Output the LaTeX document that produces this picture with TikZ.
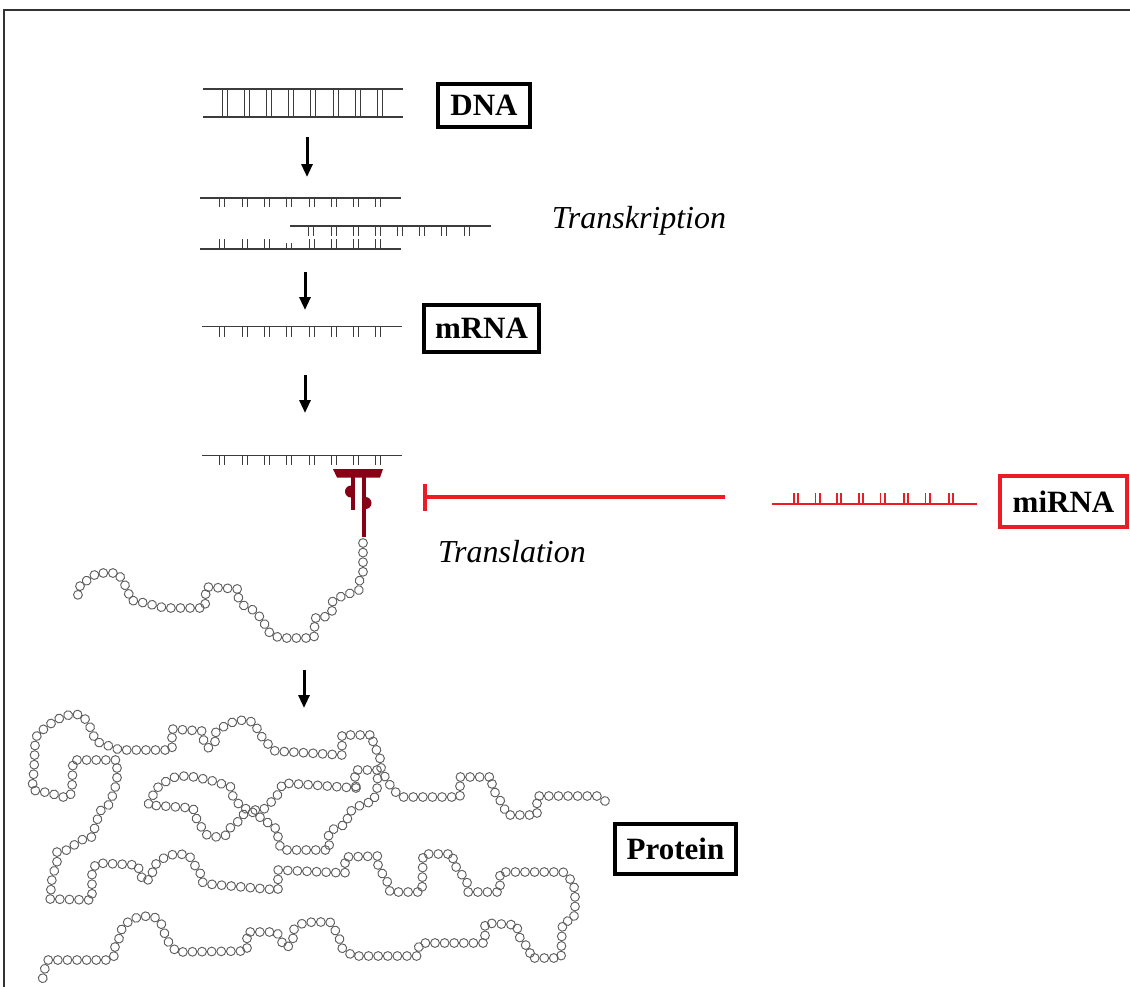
\documentclass[tikz,border=0pt]{standalone}
\usepackage{fontspec}
\setmainfont{Liberation Serif}
\usetikzlibrary{arrows.meta,decorations.markings}

\definecolor{strandgray}{RGB}{60,60,60}
\definecolor{mired}{RGB}{237,28,36}
\definecolor{ribored}{RGB}{135,0,22}
\definecolor{beadgray}{RGB}{95,95,95}
\definecolor{framegray}{RGB}{50,50,50}

\tikzset{
  strand/.style={draw=strandgray, line width=1.2pt},
  basetick/.style={draw=strandgray, line width=1pt},
  labelbox/.style={draw=black, line width=4pt, inner sep=0pt,
    font=\fontsize{31}{36}\selectfont\bfseries},
  process/.style={font=\fontsize{32}{38}\selectfont\itshape, inner sep=0pt, anchor=base},
  flow/.style={draw=black, line width=3pt, -{Triangle[width=11pt,length=13pt]}},
  inhibit/.style={draw=mired, line width=4pt, -{Bar[width=27pt]}},
  bead/.style={draw=beadgray, line width=0.95pt},
  chain/.style={decorate, decoration={markings,
    mark=between positions 0 and 1 step 9.6pt with {\draw[bead] (0,0) circle[radius=4.4pt];}}},
}

% pairs of short base ticks hanging from a strand
\newcommand{\tickpairs}[4]{% #1 list of centres, #2 y of strand, #3 y of tick end, #4 style
  \foreach \c in {#1} {
    \draw[#4] (\c-2.2,#2) -- (\c-2.2,#3);
    \draw[#4] (\c+2.2,#2) -- (\c+2.2,#3);
  }}

\begin{document}
\begin{tikzpicture}[x=1pt,y=-1pt]
\useasboundingbox (0,0) rectangle (1130,986);

% frame
\draw[framegray, line width=1.2pt] (4,990) -- (4,10) -- (1135,10);

% ---- DNA double strand ----
\coordinate (dnaA) at (203,89);  \coordinate (dnaB) at (403,89);
\coordinate (dnaC) at (203,117); \coordinate (dnaD) at (403,117);
\draw[strand] (dnaA) -- (dnaB);
\draw[strand] (dnaC) -- (dnaD);
\tickpairs{225,247,269,291,313,336,358,380}{89}{117}{basetick}
\node[labelbox, minimum width=92pt, minimum height=43pt] (dna) at (484,105.5) {DNA};

% ---- transcription ----
\coordinate (trA) at (200,198);  \coordinate (trB) at (401,198);
\coordinate (rnA) at (290,226);  \coordinate (rnB) at (491,226);
\coordinate (tmA) at (200,249);  \coordinate (tmB) at (401,249);
\draw[strand] (trA) -- (trB);
\draw[strand] (rnA) -- (rnB);
\draw[strand] (tmA) -- (tmB);
\tickpairs{222,245,267,289,312,334,356,378}{198}{207}{basetick}
\tickpairs{311,334,356,378,400,422,444,467}{226}{235.5}{basetick}
\tickpairs{222,245,267,312,334,356,378}{249}{238.5}{basetick}
\tickpairs{289}{249}{243}{basetick}
\node[process] (transk) at (639,228) {Transkription};

% ---- mRNA ----
\coordinate (mrA) at (202,326.7); \coordinate (mrB) at (402,326.7);
\draw[strand] (mrA) -- (mrB);
\tickpairs{222,245,267,289,312,334,356,378}{326.7}{336.5}{basetick}
\node[labelbox, minimum width=115pt, minimum height=47pt] (mrna) at (481.5,328.5) {mRNA};

% ---- mRNA at the ribosome ----
\coordinate (m2A) at (202,455.3); \coordinate (m2B) at (402,455.3);
\draw[strand] (m2A) -- (m2B);
\tickpairs{222,245,267,289,312,334,356,378}{455.3}{465}{basetick}

% ribosome
\fill[ribored] (333,469) -- (383,469) -- (380,477.5) -- (337,477.5) -- cycle;
\fill[ribored] (350.5,477) rectangle (355,510);
\fill[ribored] (361.5,477) rectangle (366,537);
\fill[ribored] (351,485.5) arc[start angle=90, end angle=270, radius=6pt] -- cycle;
\fill[ribored] (365.5,497) arc[start angle=90, end angle=-90, radius=6pt] -- cycle;
\coordinate (ribo) at (423,497);

% ---- miRNA ----
\coordinate (miA) at (772,504.3); \coordinate (miB) at (977,504.3);
\draw[mired, line width=2pt] (miA) -- (miB);
\tickpairs{796,817.5,839,861,882.5,906,927.5,951}{504.3}{492.5}{mired, line width=1.6pt}
\node[labelbox, draw=mired, minimum width=127pt, minimum height=51pt] (mirna) at (1063.5,501.5) {miRNA};
\coordinate (inhStart) at (725,497);
\draw[inhibit] (inhStart) -- (ribo);

\node[process] (transl) at (512,562) {Translation};

% ---- arrows between the stages ----
\coordinate (a1s) at (307,137); \coordinate (a1e) at (307,177);
\coordinate (a2s) at (305,272); \coordinate (a2e) at (305,310);
\coordinate (a3s) at (305,375); \coordinate (a3e) at (305,413);
\coordinate (a4s) at (304,670); \coordinate (a4e) at (304,708);
\draw[flow] (a1s) -- (a1e);
\draw[flow] (a2s) -- (a2e);
\draw[flow] (a3s) -- (a3e);
\draw[flow] (a4s) -- (a4e);

% ---- nascent peptide ----
\path[chain] plot coordinates {(363,543) (363,573) (359,582) (359,590) (340,597) (332,602)
  (332,612) (323,618) (315,618) (314,638) (283,638) (273,636) (267,630) (263,620)
  (253,610) (243,605) (238,597) (238,589) (206,587) (205,608) (165,608) (145,603)
  (130,600) (128,590) (123,582) (118,573) (97,573) (88,580) (80,584) (80,593) (72,600)};

% ---- folded protein ----
\path[chain] plot coordinates {(605,801) (597,796) (537,796) (537,815) (507,815) (503,805)
  (498,797) (492,788) (492,777) (460,777) (460,797) (402,797) (393,790) (387,780)
  (382,772) (380,763) (380,755) (373,745) (373,735) (342,735) (342,755) (275,751)
  (267,743) (262,737) (258,730) (253,722) (243,720) (233,722) (223,727) (215,733)
  (215,743) (208,748) (203,739) (202,731) (172,729) (172,750) (120,750) (112,747)
  (103,744) (95,741) (93,733) (88,723) (82,715) (72,714) (62,717) (53,722) (45,728)
  (37,735) (35,745) (34,770) (32,790) (50,793) (62,797) (70,797) (72,788) (73,760)
  (117,760) (117,780) (115,788) (112,797) (108,806) (100,811) (95,827) (92,837)
  (85,838) (77,843) (67,850) (57,852) (57,862) (52,878) (50,899) (92,900) (92,870)
  (97,863) (138,865) (140,875) (145,882) (152,877) (153,867) (160,860) (170,855)
  (179,854) (189,855) (193,863) (200,872) (202,882) (208,884) (278,890) (278,870)
  (345,873) (345,857) (378,856) (378,865) (383,875) (388,883) (390,892) (422,892)
  (423,854) (453,854) (453,863) (460,872) (467,882) (468,892) (500,892) (500,872)
  (563,872) (573,882) (575,892) (575,912) (573,920) (563,922) (562,930) (561,958)
  (530,958) (530,950) (523,942) (518,935) (517,925) (485,923) (485,943) (420,943)
  (418,950) (417,956) (353,956) (342,948) (340,940) (335,930) (330,922) (313,922)
  (303,923) (293,930) (293,940) (287,948) (280,940) (277,932) (247,932) (247,951)
  (177,952) (170,945) (165,935) (162,925) (157,918) (148,916) (138,917) (128,922)
  (122,928) (120,937) (115,945) (115,955) (110,960) (48,960) (45,968) (43,977) (41,987)};

\path[chain] plot coordinates {(356,788) (283,783) (276,798) (270,803) (263,810) (253,810)
  (242,808) (233,797) (231,787) (213,781) (195,777) (185,776) (175,777) (165,782)
  (157,788) (152,797) (148,805) (193,808) (197,820) (202,828) (207,835) (217,837)
  (227,835) (230,828) (237,823) (242,815) (250,812) (257,813) (262,820) (273,825)
  (278,832) (278,842) (282,850) (330,850) (328,838) (330,830) (338,828) (347,823)
  (348,813) (357,807) (365,803) (373,802) (377,790) (378,770) (355,770) (355,780)
  (356,788)};

\node[labelbox, minimum width=121pt, minimum height=50pt] (protein) at (675.5,849) {Protein};
\end{tikzpicture}
\end{document}
